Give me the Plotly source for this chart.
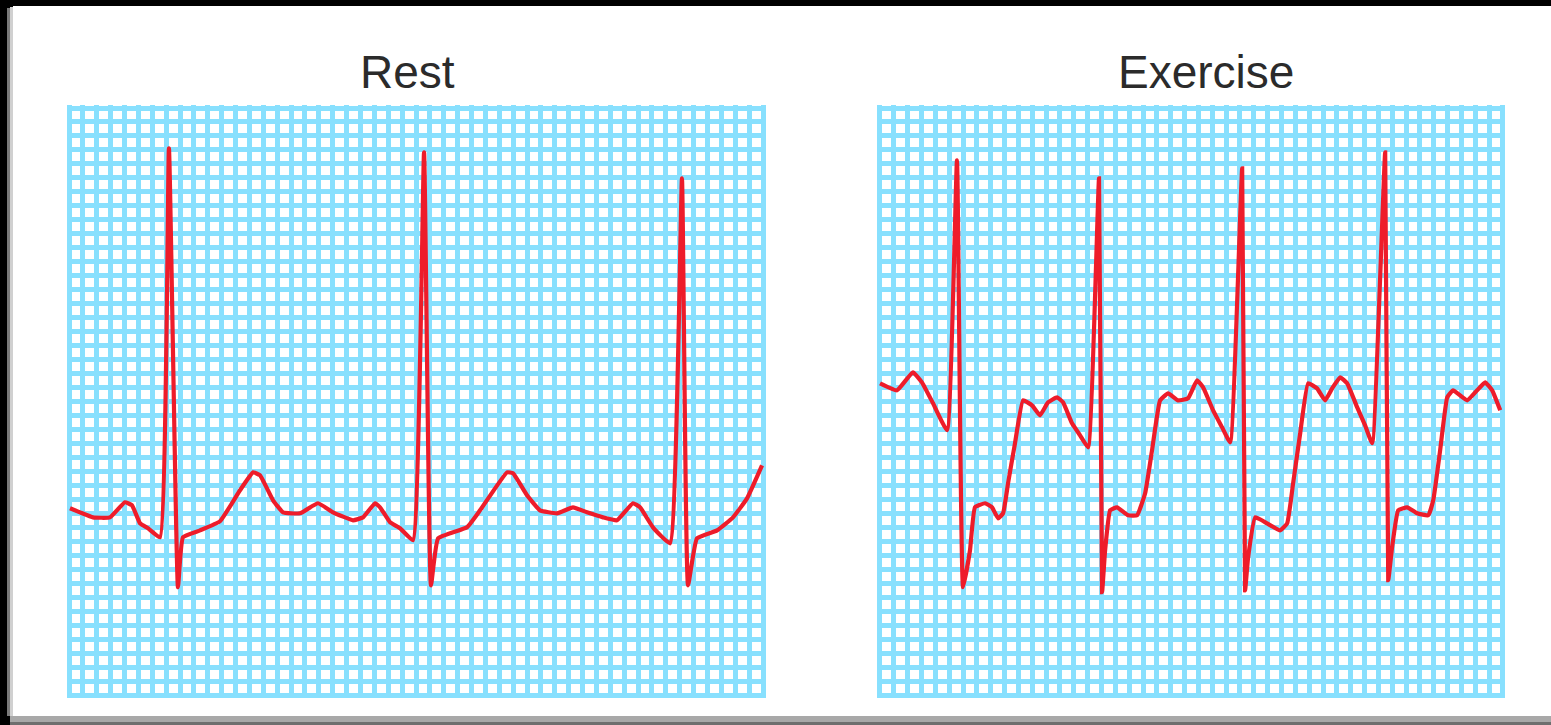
import plotly.graph_objects as go

# Rest ECG: time in small boxes (1 box = 40 ms), amplitude in small boxes (1 box = 0.1 mV)
rest_t = [0.07, 0.79, 1.73, 2.95, 4.03, 4.54, 5.12, 5.69, 6.56, 7.20, 7.85, 8.21, 9.44, 10.88,
          12.32, 13.26, 13.76, 14.70, 15.42, 16.64, 17.94, 19.02, 20.46, 21.18, 22.05, 22.41,
          23.13, 23.85, 24.78, 25.58, 26.08, 26.59, 28.67, 29.61, 31.56, 31.99, 33.00, 33.93,
          35.16, 36.31, 37.32, 38.47, 39.48, 40.63, 41.14, 42.07, 43.30, 44.16, 44.60, 45.24,
          46.69, 47.84, 48.85, 49.93]
rest_v = [0.36, 0.07, -0.29, -0.29, 0.79, 0.57, -0.72, -1.07, -1.72, 26.11, -5.29, -1.72, -1.22, -0.57,
          1.65, 2.93, 2.72, 0.93, 0.07, 0.0, 0.72, 0.07, -0.50, -0.29, 0.72, 0.43,
          -0.64, -1.07, -1.93, 25.82, -5.15, -1.79, -1.00, 0.21, 2.93, 2.86, 1.29, 0.21,
          0.0, 0.43, 0.07, -0.29, -0.50, 0.72, 0.43, -1.00, -2.15, 23.96, -5.15, -1.79,
          -1.22, -0.29, 1.07, 3.43]

# Exercise ECG
ex_t = [0.0, 1.23, 2.38, 3.03, 3.83, 4.84, 5.56, 6.00, 6.50, 6.86, 7.59, 8.09, 8.53, 8.89,
        9.25, 9.75, 10.33, 10.98, 11.56, 12.14, 12.79, 13.22, 13.87, 14.45, 15.03, 15.82,
        16.04, 16.26, 16.62, 17.12, 17.92, 18.57, 19.15, 19.65, 20.23, 20.81, 21.53, 22.25,
        22.90, 23.34, 24.06, 24.71, 25.29, 26.16, 26.37, 26.59, 27.10, 27.96, 28.90, 29.41,
        29.84, 30.35, 30.92, 31.57, 32.15, 32.66, 33.24, 33.74, 34.47, 35.04, 35.55, 36.49,
        36.71, 36.99, 37.43, 38.08, 38.80, 39.60, 39.96, 40.46, 40.97, 41.40, 42.41, 43.13,
        43.71, 44.22, 44.80]
ex_v = [9.30, 8.80, 10.09, 9.37, 7.87, 5.94, 25.25, -5.29, -2.65, 0.43, 0.72, 0.43, -0.36, 0.0,
        2.15, 5.01, 8.08, 7.73, 7.01, 7.94, 8.30, 7.94, 6.44, 5.58, 4.72, 23.96,
        -5.65, -2.65, 0.21, 0.43, -0.14, -0.14, 1.43, 4.51, 8.08, 8.58, 8.08, 8.23,
        9.51, 9.01, 7.37, 6.15, 5.08, 24.68, -5.51, -3.15, -0.29, -0.72, -1.22, -0.72,
        2.15, 5.72, 9.30, 8.94, 8.08, 8.94, 9.73, 9.30, 7.58, 6.29, 5.01, 25.82,
        -4.79, -2.43, 0.21, 0.43, 0.0, -0.14, 0.93, 4.51, 8.30, 8.80, 8.08, 8.80,
        9.37, 8.80, 7.37]

titles = ["Rest", "Exercise"]
rest_boxes = 50
ex_boxes = 45
y_low, y_high = -13, 29

W, H = 1551, 725
GRID = "#88e0fe"
RED = "#ee1c2a"
PAD = 0.18  # small pad so the border grid lines are drawn fully

fig = go.Figure()
fig.add_trace(go.Scatter(x=rest_t, y=rest_v, mode="lines", xaxis="x", yaxis="y",
                         line=dict(color=RED, width=4.2, shape="spline", smoothing=0.35),
                         hoverinfo="skip"))
fig.add_trace(go.Scatter(x=ex_t, y=ex_v, mode="lines", xaxis="x2", yaxis="y2",
                         line=dict(color=RED, width=4.2, shape="spline", smoothing=0.35),
                         hoverinfo="skip"))

def px(x):
    return x / W

def py(y):
    return 1 - y / H

bw_l = (763 - 69) / rest_boxes
bw_r = (1503 - 880) / ex_boxes
bh = (695 - 108) / (y_high - y_low)

ax_common = dict(showgrid=True, gridcolor=GRID, gridwidth=5, dtick=1, tick0=0,
                 zeroline=False, showticklabels=False, ticks="", fixedrange=True,
                 showline=False)

fig.update_layout(
    width=W, height=H,
    margin=dict(l=0, r=0, t=0, b=0),
    paper_bgcolor="black",
    plot_bgcolor="white",
    showlegend=False,
    xaxis=dict(domain=[px(69 - PAD * bw_l), px(763 + PAD * bw_l)],
               range=[-PAD, rest_boxes + PAD], **ax_common),
    yaxis=dict(domain=[py(695 + PAD * bh), py(108 - PAD * bh)],
               range=[y_low - PAD, y_high + PAD], **ax_common),
    xaxis2=dict(domain=[px(880 - PAD * bw_r), px(1503 + PAD * bw_r)],
                range=[-PAD, ex_boxes + PAD], anchor="y2", **ax_common),
    yaxis2=dict(domain=[py(695 + PAD * bh), py(108 - PAD * bh)],
                range=[y_low - PAD, y_high + PAD], anchor="x2", **ax_common),
)

# white slide background with a soft left edge and grey bottom strip
fig.add_shape(type="rect", xref="paper", yref="paper", layer="below",
              x0=px(7), x1=px(11), y0=py(716), y1=py(8), fillcolor="#7a7a7a", line_width=0)
fig.add_shape(type="rect", xref="paper", yref="paper", layer="below",
              x0=px(10), x1=px(13), y0=py(716), y1=py(7), fillcolor="#d0d0d0", line_width=0)
fig.add_shape(type="rect", xref="paper", yref="paper", layer="below",
              x0=px(13), x1=1, y0=py(716), y1=py(6), fillcolor="white", line_width=0)
fig.add_shape(type="rect", xref="paper", yref="paper", layer="below",
              x0=px(10), x1=1, y0=py(722), y1=py(716), fillcolor="#a8a8a8", line_width=0)
fig.add_shape(type="rect", xref="paper", yref="paper", layer="below",
              x0=px(10), x1=1, y0=0, y1=py(722), fillcolor="#6e6e6e", line_width=0)

for t, cx in zip(titles, [407, 1206]):
    fig.add_annotation(text=t, xref="paper", yref="paper", x=px(cx), y=py(72),
                       xanchor="center", yanchor="middle", showarrow=False,
                       font=dict(family="Liberation Sans Narrow, Liberation Sans, Arial", size=46,
                                 color="#2b2b2b"))

fig.write_html("out.html", config={"displayModeBar": False, "staticPlot": True},
               post_script="document.body.style.margin='0';document.body.style.background='black';"
                           "document.body.style.overflow='hidden';")
